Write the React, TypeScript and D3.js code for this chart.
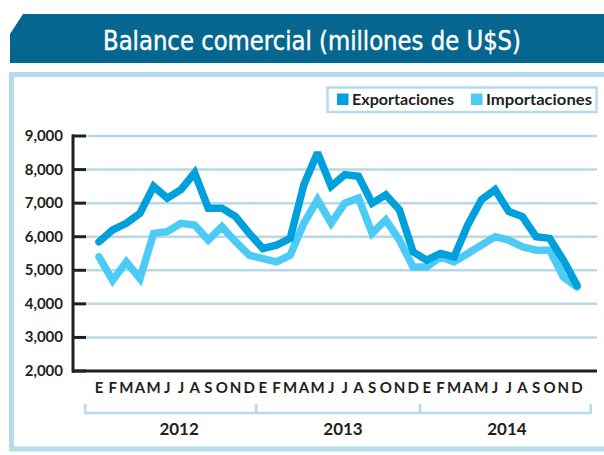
import React, { useEffect, useRef } from "react";
import * as d3 from "d3";

// datos mensuales (millones de U$S), ene-2012 a dic-2014
const years = ["2012", "2013", "2014"];
const months = ["E", "F", "M", "A", "M", "J", "J", "A", "S", "O", "N", "D"];
const exportaciones = [
  5850, 6200, 6400, 6700, 7500, 7150, 7400, 7900, 6850, 6850, 6600, 6100,
  5650, 5750, 5950, 7550, 8500, 7500, 7850, 7800, 7000, 7250, 6800, 5550,
  5300, 5500, 5400, 6350, 7100, 7400, 6750, 6600, 6000, 5950, 5300, 4550,
];
const importaciones = [
  5400, 4700, 5250, 4750, 6100, 6150, 6400, 6350, 5900, 6300, 5850, 5450,
  5350, 5250, 5450, 6400, 7100, 6400, 7000, 7150, 6100, 6500, 5900, 5100,
  5100, 5400, 5250, 5500, 5750, 6000, 5900, 5700, 5600, 5600, 4800, 4500,
];
const yTicks = [2000, 3000, 4000, 5000, 6000, 7000, 8000, 9000];
const title = "Balance comercial (millones de U$S)";
const seriesNames = ["Exportaciones", "Importaciones"];

const W = 604;
const H = 455;
const colors = { exp: "#00a0dc", imp: "#4ccbf6", banner: "#05678f", frame: "#b6dbec", grid: "#b8d8e7", ink: "#231f20" };
const labelFont = "Lato, 'Noto Sans', sans-serif";

const App = () => {
  const svgRef = useRef(null);

  useEffect(() => {
    const svg = d3.select(svgRef.current);
    svg.selectAll("*").remove();

    const keys = years.flatMap((yr) => months.map((m, i) => `${yr}-${i}`));
    const x = d3.scalePoint().domain(keys).range([99, 577]);
    const step = x.step();
    const y = d3.scaleLinear().domain([2000, 9000]).range([371, 136]);

    // banner
    svg
      .append("path")
      .attr("d", `M10,34 L23,14 H${W} V63 H10 Z`)
      .attr("fill", colors.banner);
    svg
      .append("text")
      .attr("x", 103)
      .attr("y", 50)
      .attr("textLength", 418)
      .attr("lengthAdjust", "spacingAndGlyphs")
      .attr("font-family", "'Liberation Sans Narrow', 'DejaVu Sans Condensed', sans-serif")
      .attr("font-size", 27)
      .attr("stroke", "#fff")
      .attr("stroke-width", 0.4)
      .attr("fill", "#fff")
      .text(title);

    // frame
    svg
      .append("rect")
      .attr("x", 11.5)
      .attr("y", 74.5)
      .attr("width", 620)
      .attr("height", 374.5)
      .attr("fill", "#fff")
      .attr("stroke", colors.frame)
      .attr("stroke-width", 5);

    // legend
    const leg = svg.append("g");
    leg
      .append("rect")
      .attr("x", 327.5)
      .attr("y", 87.5)
      .attr("width", 269)
      .attr("height", 24.5)
      .attr("fill", "#fff")
      .attr("stroke", colors.frame)
      .attr("stroke-width", 2.5);
    const legX = [337, 471];
    const legW = [102, 106];
    seriesNames.forEach((name, i) => {
      leg
        .append("rect")
        .attr("x", legX[i])
        .attr("y", 93.5)
        .attr("width", 11.5)
        .attr("height", 11.5)
        .attr("fill", i === 0 ? colors.exp : colors.imp);
      leg
        .append("text")
        .attr("x", legX[i] + 15)
        .attr("y", 105)
        .attr("textLength", legW[i])
        .attr("lengthAdjust", "spacingAndGlyphs")
        .attr("font-family", labelFont)
        .attr("font-weight", 700)
        .attr("font-size", 15)
        .attr("fill", colors.ink)
        .text(name);
    });

    // grid + y ticks
    const g = svg.append("g");
    yTicks.slice(1).forEach((t) => {
      g.append("line")
        .attr("x1", 86)
        .attr("x2", 597)
        .attr("y1", y(t))
        .attr("y2", y(t))
        .attr("stroke", colors.grid)
        .attr("stroke-width", 2.5);
    });
    yTicks.forEach((t) => {
      g.append("line")
        .attr("x1", 72)
        .attr("x2", 86)
        .attr("y1", y(t))
        .attr("y2", y(t))
        .attr("stroke", colors.ink)
        .attr("stroke-width", 3);
      g.append("text")
        .attr("x", 63)
        .attr("y", y(t) + 5)
        .attr("text-anchor", "end")
        .attr("font-family", labelFont)
        .attr("font-weight", 700)
        .attr("font-size", 15)
        .attr("fill", colors.ink)
        .text(d3.format(",")(t));
    });
    g.append("line")
      .attr("x1", 73)
      .attr("x2", 73)
      .attr("y1", y(9000) - 1.5)
      .attr("y2", y(2000) + 1.5)
      .attr("stroke", colors.ink)
      .attr("stroke-width", 3);
    g.append("line")
      .attr("x1", 72)
      .attr("x2", 597)
      .attr("y1", y(2000))
      .attr("y2", y(2000))
      .attr("stroke", colors.ink)
      .attr("stroke-width", 3);

    // month labels
    keys.forEach((k, i) => {
      g.append("text")
        .attr("x", x(k))
        .attr("y", 393)
        .attr("text-anchor", "middle")
        .attr("font-family", labelFont)
        .attr("font-weight", 700)
        .attr("font-size", 15)
        .attr("fill", colors.ink)
        .text(months[i % 12]);
    });

    // year brackets
    const bounds = [x(keys[0]) - step];
    years.forEach((yr, j) => {
      const last = j * 12 + 11;
      bounds.push(j < years.length - 1 ? (x(keys[last]) + x(keys[last + 1])) / 2 : x(keys[last]) + step);
    });
    years.forEach((yr, j) => {
      g.append("path")
        .attr("d", `M${bounds[j]},404 V413 H${bounds[j + 1]} V404`)
        .attr("fill", "none")
        .attr("stroke", colors.frame)
        .attr("stroke-width", 2.5);
      const mid = (x(keys[j * 12]) + x(keys[j * 12 + 11])) / 2 + 5;
      g.append("text")
        .attr("x", mid)
        .attr("y", 435)
        .attr("text-anchor", "middle")
        .attr("font-family", labelFont)
        .attr("font-weight", 700)
        .attr("font-size", 17)
        .attr("fill", colors.ink)
        .text(yr);
    });

    // lines
    const line = d3
      .line()
      .x((d, i) => x(keys[i]))
      .y((d) => y(d));
    [
      [importaciones, colors.imp],
      [exportaciones, colors.exp],
    ].forEach(([data, col]) => {
      svg
        .append("path")
        .datum(data)
        .attr("d", line)
        .attr("fill", "none")
        .attr("stroke", col)
        .attr("stroke-width", 7.5)
        .attr("stroke-linejoin", "miter")
        .attr("stroke-miterlimit", 2.5)
        .attr("stroke-linecap", "round");
    });
  }, []);

  return (
    <svg
      ref={svgRef}
      width={W}
      height={H}
      style={{ position: "absolute", left: 0, top: 0, background: "#fff" }}
    />
  );
};

export default App;
